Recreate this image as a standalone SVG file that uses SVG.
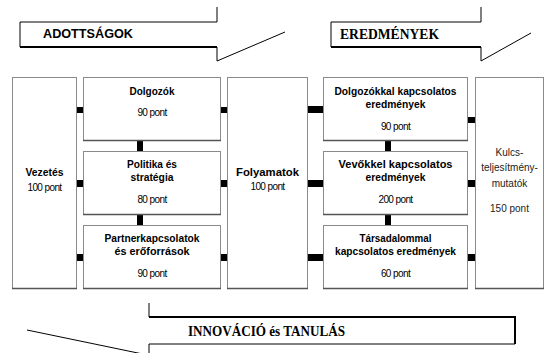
<svg xmlns="http://www.w3.org/2000/svg" width="545" height="353" viewBox="0 0 545 353">
<style>
.box{fill:#fff;stroke:#8a8a8a;stroke-width:1}
.shadow{stroke:#555;stroke-width:1.6;fill:none}
.con{fill:#000}
.t{font-family:"Liberation Sans",Arial,sans-serif;font-weight:bold;font-size:11px;fill:#000;text-anchor:middle}
.p{font-family:"Liberation Sans",Arial,sans-serif;font-size:10px;letter-spacing:-0.6px;fill:#000;text-anchor:middle}
.k{font-family:"Liberation Sans",Arial,sans-serif;font-size:10px;fill:#222;text-anchor:middle}
.hs{font-family:"Liberation Sans",Arial,sans-serif;font-weight:bold;font-size:13.5px;fill:#000}
.hr{font-family:"Liberation Serif","Times New Roman",serif;font-weight:bold;font-size:15px;fill:#000}
.ar{fill:none;stroke:#000;stroke-width:1}
.art{fill:none;stroke:#000;stroke-width:2}
</style>
<rect width="545" height="353" fill="#fff"/>

<g id="adottsagok">
<path class="ar" d="M217,7 V22 H20 V47"/>
<path class="art" d="M20,47 H217"/>
<path class="ar" d="M217,47 V61 L285,32"/>
<text class="hs" x="43" y="38" textLength="90" lengthAdjust="spacingAndGlyphs">ADOTTSÁGOK</text>
</g>

<g id="eredmenyek">
<path class="ar" d="M481,7 V22 H331 V47"/>
<path class="art" d="M331,47 H481"/>
<path class="ar" d="M481,47 V61 L531,33"/>
<text class="hr" x="340" y="39" textLength="99" lengthAdjust="spacingAndGlyphs">EREDMÉNYEK</text>
</g>

<g id="innovacio">
<path class="ar" d="M149,303 V317"/>
<path class="art" d="M149,317 H515 V344"/>
<path class="ar" d="M515,344 H149 V353" stroke="#555"/>
<path class="ar" d="M27,330 L149,355.3"/>
<text class="hr" x="188" y="336" font-size="14" textLength="157" lengthAdjust="spacingAndGlyphs">INNOVÁCIÓ és TANULÁS</text>
</g>

<g id="connectors">
<rect class="con" x="76" y="107" width="7" height="6"/>
<rect class="con" x="76" y="180" width="7" height="7"/>
<rect class="con" x="76" y="254" width="7" height="7"/>
<rect class="con" x="220" y="107" width="7" height="6"/>
<rect class="con" x="220" y="180" width="7" height="7"/>
<rect class="con" x="220" y="254" width="7" height="7"/>
<rect class="con" x="137" y="141" width="6" height="10"/>
<rect class="con" x="137" y="215" width="6" height="10"/>
<rect class="con" x="307" y="106" width="16" height="7"/>
<rect class="con" x="307" y="180" width="16" height="7"/>
<rect class="con" x="307" y="254" width="16" height="7"/>
<rect class="con" x="385" y="140" width="6" height="11"/>
<rect class="con" x="385" y="215" width="6" height="10"/>
<rect class="con" x="467" y="117" width="8" height="6"/>
<rect class="con" x="467" y="180" width="8" height="7"/>
<rect class="con" x="467" y="254" width="8" height="7"/>
</g>

<g id="vezetes">
<rect class="box" x="12.5" y="77.5" width="64" height="211"/>
<path class="shadow" d="M12,288.5 H77"/>
<text class="t" x="44.5" y="176" textLength="38" lengthAdjust="spacingAndGlyphs">Vezetés</text>
<text class="p" x="44.5" y="190.5">100 pont</text>
</g>

<g id="dolgozok">
<rect class="box" x="83.5" y="77.5" width="137" height="63"/>
<path class="shadow" d="M83,140.5 H221"/>
<text class="t" x="152" y="95" textLength="45" lengthAdjust="spacingAndGlyphs">Dolgozók</text>
<text class="p" x="152" y="116">90 pont</text>
</g>

<g id="politika">
<rect class="box" x="83.5" y="151.5" width="137" height="63"/>
<path class="shadow" d="M83,214.5 H221"/>
<text class="t" x="152" y="168" textLength="50" lengthAdjust="spacingAndGlyphs">Politika és</text>
<text class="t" x="152" y="181" textLength="43" lengthAdjust="spacingAndGlyphs">stratégia</text>
<text class="p" x="152" y="203">80 pont</text>
</g>

<g id="partner">
<rect class="box" x="83.5" y="225.5" width="137" height="63"/>
<path class="shadow" d="M83,288.5 H221"/>
<text class="t" x="152" y="242" textLength="95" lengthAdjust="spacingAndGlyphs">Partnerkapcsolatok</text>
<text class="t" x="152" y="255" textLength="75" lengthAdjust="spacingAndGlyphs">és erőforrások</text>
<text class="p" x="152" y="277">90 pont</text>
</g>

<g id="folyamatok">
<rect class="box" x="227.5" y="77.5" width="80" height="211"/>
<path class="shadow" d="M227,288.5 H308"/>
<text class="t" x="267.5" y="176" textLength="63" lengthAdjust="spacingAndGlyphs">Folyamatok</text>
<text class="p" x="267.5" y="190">100 pont</text>
</g>

<g id="dolgozokkal">
<rect class="box" x="323.5" y="77.5" width="144" height="63"/>
<path class="shadow" d="M323,140.5 H468"/>
<text class="t" x="395.5" y="95" textLength="122" lengthAdjust="spacingAndGlyphs">Dolgozókkal kapcsolatos</text>
<text class="t" x="395.5" y="108" textLength="60" lengthAdjust="spacingAndGlyphs">eredmények</text>
<text class="p" x="395.5" y="130">90 pont</text>
</g>

<g id="vevokkel">
<rect class="box" x="323.5" y="151.5" width="144" height="63"/>
<path class="shadow" d="M323,214.5 H468"/>
<text class="t" x="395.5" y="168" textLength="114" lengthAdjust="spacingAndGlyphs">Vevőkkel kapcsolatos</text>
<text class="t" x="395.5" y="181" textLength="60" lengthAdjust="spacingAndGlyphs">eredmények</text>
<text class="p" x="395.5" y="203">200 pont</text>
</g>

<g id="tarsadalommal">
<rect class="box" x="323.5" y="225.5" width="144" height="63"/>
<path class="shadow" d="M323,288.5 H468"/>
<text class="t" x="395.5" y="242" textLength="72" lengthAdjust="spacingAndGlyphs">Társadalommal</text>
<text class="t" x="395.5" y="255" textLength="121" lengthAdjust="spacingAndGlyphs">kapcsolatos eredmények</text>
<text class="p" x="395.5" y="277">60 pont</text>
</g>

<g id="kulcs">
<rect class="box" x="475.5" y="77.5" width="68" height="211"/>
<path class="shadow" d="M475,288.5 H544"/>
<text class="k" x="509.5" y="156">Kulcs-</text>
<text class="k" x="509.5" y="171">teljesítmény-</text>
<text class="k" x="509.5" y="187">mutatók</text>
<text class="k" x="509.5" y="212">150 pont</text>
</g>
</svg>
